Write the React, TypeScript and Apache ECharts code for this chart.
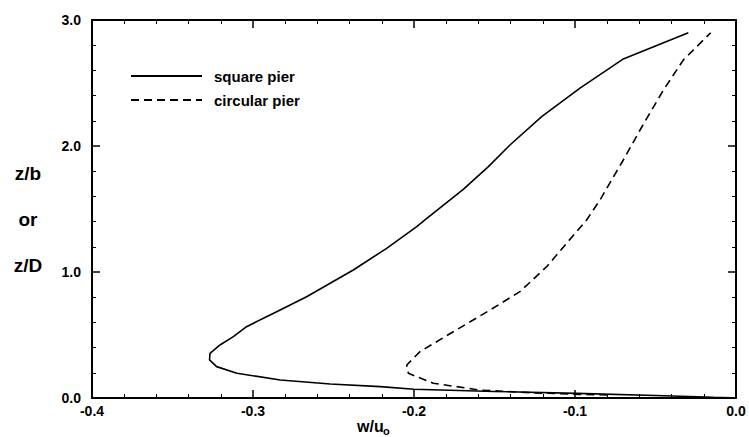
import React, { useEffect, useRef } from 'react';
import * as echarts from 'echarts';

// Tick label values
const xTickValues = [-0.4, -0.3, -0.2, -0.1, 0.0];
const yTickValues = [0.0, 1.0, 2.0, 3.0];

const seriesNames = ['square pier', 'circular pier'];

// square pier: w/u0 and z/b
const squareW = [-0.003, -0.014, -0.05, -0.099, -0.15, -0.2, -0.221, -0.252, -0.283, -0.31, -0.3226, -0.327, -0.3267, -0.3205, -0.3122, -0.304, -0.2853, -0.2667, -0.2377, -0.217, -0.1983, -0.1932, -0.1694, -0.1538, -0.1404, -0.1207, -0.0969, -0.0704, -0.0296];
const squareZ = [0.002, 0.006, 0.02, 0.037, 0.052, 0.069, 0.09, 0.111, 0.143, 0.196, 0.249, 0.302, 0.355, 0.421, 0.487, 0.566, 0.685, 0.804, 1.016, 1.188, 1.36, 1.413, 1.656, 1.836, 2.008, 2.233, 2.46, 2.688, 2.899];

// circular pier: w/u0 and z/D
const circularW = [-0.08, -0.0969, -0.128, -0.159, -0.188, -0.2035, -0.2045, -0.1963, -0.1756, -0.1528, -0.1342, -0.1176, -0.1052, -0.0928, -0.0845, -0.07, -0.0596, -0.0451, -0.0327, -0.0157];
const circularZ = [0.024, 0.029, 0.042, 0.063, 0.117, 0.196, 0.262, 0.368, 0.526, 0.698, 0.844, 1.042, 1.228, 1.413, 1.571, 1.889, 2.127, 2.444, 2.683, 2.899];

const FONT = '"Liberation Sans", Arial, Helvetica, sans-serif';

export default function App() {
  const ref = useRef<HTMLDivElement>(null);

  useEffect(() => {
    document.body.style.margin = '0';
    const chart = echarts.init(ref.current!, null, { renderer: 'svg' });

    const xMin = xTickValues[0];
    const xMax = xTickValues[xTickValues.length - 1];
    const yMin = yTickValues[0];
    const yMax = yTickValues[yTickValues.length - 1];

    const axisLine = { show: true, onZero: false, lineStyle: { color: '#000', width: 2 } };
    const axisTick = { show: true, inside: true, length: 8, lineStyle: { color: '#000', width: 1.5 } };
    const minorTick = { show: true, splitNumber: 5, length: 4, lineStyle: { color: '#000', width: 1 } };
    const labelStyle = {
      color: '#000',
      fontSize: 14,
      fontWeight: 'bold' as const,
      fontFamily: FONT,
      formatter: (v: number) => v.toFixed(1),
    };

    const xBase = {
      type: 'value' as const,
      min: xMin,
      max: xMax,
      interval: 0.1,
      axisLine,
      axisTick,
      minorTick,
      splitLine: { show: false },
      minorSplitLine: { show: false },
    };
    const yBase = {
      type: 'value' as const,
      min: yMin,
      max: yMax,
      interval: 1,
      axisLine,
      axisTick,
      minorTick,
      splitLine: { show: false },
      minorSplitLine: { show: false },
    };

    chart.setOption({
      animation: false,
      backgroundColor: '#fff',
      grid: { left: 92, right: 13, top: 20, bottom: 39, containLabel: false, outerBoundsMode: 'none' },
      legend: {
        data: seriesNames,
        orient: 'vertical',
        left: 130,
        top: 68,
        padding: 0,
        itemWidth: 71,
        itemHeight: 14,
        itemGap: 8,
        itemStyle: { opacity: 0 },
        textStyle: {
          color: '#000',
          fontSize: 15,
          fontWeight: 'bold',
          fontFamily: FONT,
          lineHeight: 16,
          padding: [0, 0, 0, 7],
        },
      },
      xAxis: [
        { ...xBase, position: 'bottom', axisLabel: { ...labelStyle, margin: 6 } },
        { ...xBase, position: 'top', axisLabel: { show: false } },
      ],
      yAxis: [
        { ...yBase, position: 'left', axisLabel: { ...labelStyle, margin: 11 } },
        { ...yBase, position: 'right', axisLabel: { show: false } },
      ],
      graphic: [
        {
          type: 'text',
          x: 28,
          y: 219,
          style: {
            text: 'z/b\n\nor\n\nz/D',
            fontSize: 19,
            fontWeight: 'bold',
            fontFamily: FONT,
            fill: '#000',
            lineHeight: 23,
            align: 'center',
            verticalAlign: 'middle',
          },
        },
        {
          type: 'text',
          x: 357,
          y: 426,
          style: {
            text: 'w/u',
            fontSize: 16,
            fontWeight: 'bold',
            fontFamily: FONT,
            fill: '#000',
            align: 'left',
            verticalAlign: 'middle',
          },
        },
        {
          type: 'text',
          x: 383,
          y: 431,
          style: {
            text: 'o',
            fontSize: 11,
            fontWeight: 'bold',
            fontFamily: FONT,
            fill: '#000',
            align: 'left',
            verticalAlign: 'middle',
          },
        },
      ],
      series: [
        {
          name: seriesNames[0],
          type: 'line',
          xAxisIndex: 0,
          yAxisIndex: 0,
          symbol: 'none',
          data: squareW.map((w, i) => [w, squareZ[i]]),
          lineStyle: { color: '#000', width: 1.6, type: 'solid' },
          itemStyle: { color: '#000' },
        },
        {
          name: seriesNames[1],
          type: 'line',
          xAxisIndex: 0,
          yAxisIndex: 0,
          symbol: 'none',
          data: circularW.map((w, i) => [w, circularZ[i]]),
          lineStyle: { color: '#000', width: 1.6, type: [8, 5] },
          itemStyle: { color: '#000' },
        },
      ],
    });

    return () => chart.dispose();
  }, []);

  return <div ref={ref} style={{ width: 749, height: 437 }} />;
}
